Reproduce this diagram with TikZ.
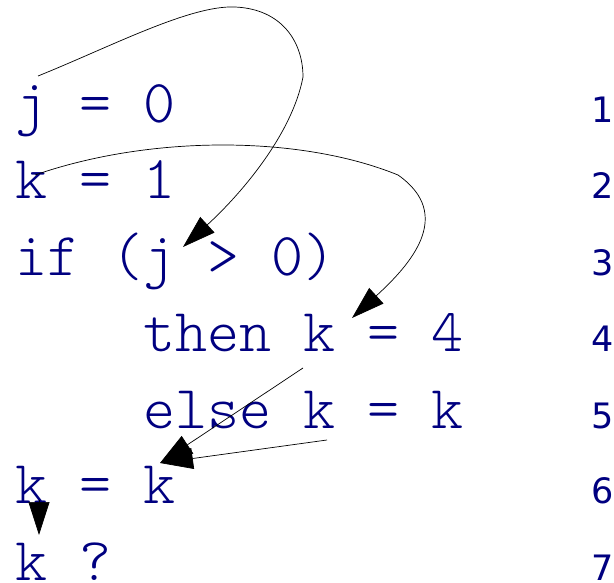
\documentclass[tikz,border=0pt]{standalone}
\usepackage{fontspec}
\usetikzlibrary{arrows.meta}
\newfontfamily\codefont{lmmonolt10-regular.otf}
\newfontfamily\numfont{DejaVu Sans}
\definecolor{codeblue}{RGB}{0,0,128}
\begin{document}
\begin{tikzpicture}[x=1pt,y=-1pt,
  code/.style={anchor=base west,inner sep=0pt,text=codeblue,font=\codefont\fontsize{61}{61}\selectfont},
  lnum/.style={anchor=base west,inner sep=0pt,text=codeblue,font=\numfont\fontsize{35}{35}\selectfont},
  arr/.style={line width=0.7pt,-{Triangle[length=33pt,width=21pt]}}]
\useasboundingbox (0,0) rectangle (614,583);
% code lines
\node[code] (l1) at (15,123) {j = 0};
\node[code] (l2) at (15,199) {k = 1};
\node[code] (l3) at (15,276) {if (j > 0)};
\node[code] (l4) at (143,352) {then k = 4};
\node[code] (l5) at (143,428) {else k = k};
\node[code] (l6) at (15,503) {k = k};
\node[code] (l7) at (15,580) {k ?};
% line numbers
\node[lnum] (n1) at (591,123) {1};
\node[lnum] (n2) at (591,199) {2};
\node[lnum] (n3) at (591,276) {3};
\node[lnum] (n4) at (591,352) {4};
\node[lnum] (n5) at (591,428) {5};
\node[lnum] (n6) at (591,503) {6};
\node[lnum] (n7) at (591,580) {7};
% connector end points
\coordinate (a1s) at (38,76);
\coordinate (a1e) at (183,247);
\coordinate (a2s) at (35,175);
\coordinate (a2e) at (352,318);
\coordinate (a3s) at (303,368);
\coordinate (a4s) at (327,440);
\coordinate (a6) at (160,463);
\coordinate (a5s) at (39,500);
\coordinate (a5e) at (39,535);
% connectors
\draw[arr] (a1s) .. controls (110,47) and (190,5) .. (235,7)
  .. controls (282,9) and (303,42) .. (303,77)
  .. controls (292,135) and (240,195) .. (a1e);
\draw[arr] (a2s) .. controls (150,135) and (300,135) .. (398,175)
  .. controls (455,215) and (410,265) .. (a2e);
\draw[arr] (a3s) -- (a6);
\draw[arr] (a4s) -- (a6);
\draw[arr] (a5s) -- (a5e);
\end{tikzpicture}
\end{document}
